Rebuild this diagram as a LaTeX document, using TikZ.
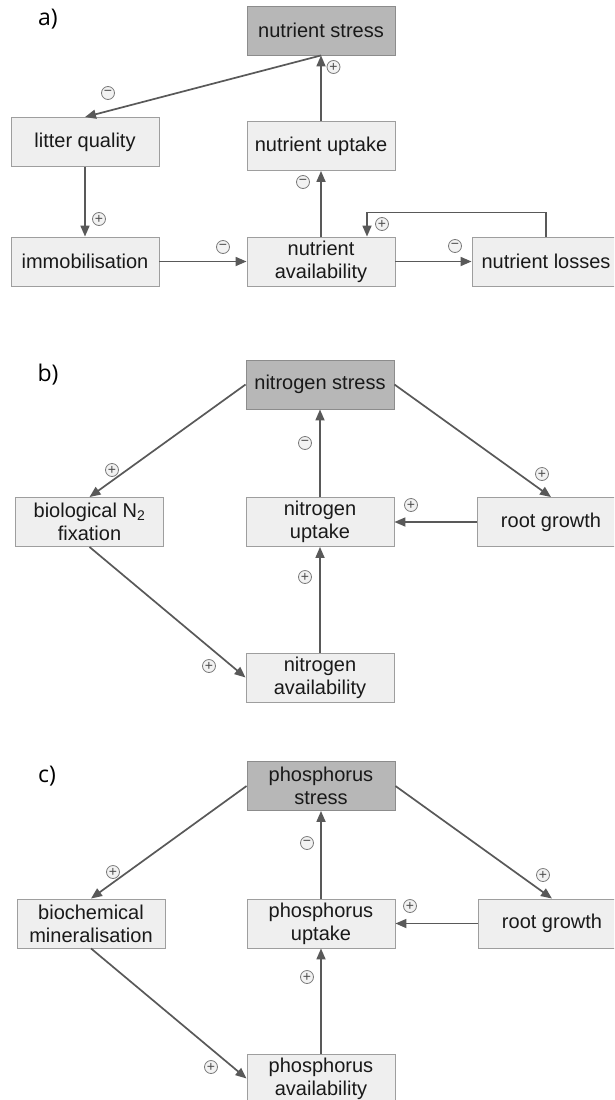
\documentclass[tikz,border=0pt]{standalone}
\usepackage{fontspec}
\setmainfont{Liberation Sans}
\newfontfamily\labelfont{Open Sans}
\usetikzlibrary{arrows.meta}
\definecolor{boxfill}{HTML}{EFEFEF}
\definecolor{boxline}{HTML}{9E9E9E}
\definecolor{darkfill}{HTML}{B7B7B7}
\definecolor{darkline}{HTML}{8C8C8C}
\definecolor{arrowcol}{HTML}{595959}
\definecolor{signcol}{HTML}{7A7A7A}
\definecolor{signfill}{HTML}{F2F2F2}
\tikzset{
  box/.style={draw=boxline, fill=boxfill, line width=0.9pt, minimum width=148pt, minimum height=49pt, inner sep=0pt, align=center, font=\fontsize{20}{23}\selectfont, text=black!90},
  stressbox/.style={box, draw=darkline, fill=darkfill},
  link/.style={draw=arrowcol, line width=1.7pt, -{Triangle[length=11pt,width=9pt]}},
  sign/.style={circle, draw=signcol, fill=signfill, line width=0.8pt, minimum size=13pt, inner sep=0pt, text=black!70, font=\fontsize{14}{14}\selectfont},
  panellabel/.style={font=\labelfont\fontsize{23}{24}\selectfont, inner sep=0pt}
}
\begin{document}
\begin{tikzpicture}[x=1pt, y=-1pt]
\clip (0,0) rectangle (614,1100);
\fill[white] (0,0) rectangle (614,1100);

% ---------- panel a ----------
\node[panellabel] (la) at (48,19) {a)};
\node[stressbox] (ns) at (321,30.5) {nutrient stress};
\node[box] (lq) at (85,142) {litter quality};
\node[box] (nu) at (321,146) {nutrient uptake};
\node[box] (im) at (85,261.5) {immobilisation};
\node[box] (na) at (321,261.5) {nutrient\\availability};
\node[box] (nl) at (546,261.5) {nutrient losses};

\draw[link] (ns.south) -- (lq.north);
\draw[link] (nu.north) -- (ns.south);
\draw[link] (lq.south) -- (im.north);
\draw[link] (na.north) -- (nu.south);
\draw[link] (im.east) -- (na.west);
\draw[link] (na.east) -- (nl.west);
\draw[link] (nl.north) -- ++(0,-24) -| ([xshift=46pt]na.north);

\node[sign] (sa1) at (108,93) {−};
\node[sign] (sa2) at (333.5,67) {+};
\node[sign] (sa3) at (99,219) {+};
\node[sign] (sa4) at (303,182) {−};
\node[sign] (sa5) at (382,224) {+};
\node[sign] (sa6) at (223,247) {−};
\node[sign] (sa7) at (455,246) {−};

% ---------- panel b ----------
\node[panellabel] (lb) at (48,375) {b)};
\node[stressbox] (nsb) at (320,384.5) {nitrogen stress};
\node[box] (bio) at (89.5,522) {biological N\textsubscript{2}\\fixation};
\node[box] (nub) at (320,522) {nitrogen\\uptake};
\node[box] (rgb) at (551,522) {root growth};
\begin{scope}
\clip (0,0) rectangle (614,702);
\node[box] (nab) at (320,677.5) {nitrogen\\availability};
\end{scope}

\draw[link] (nsb.west) -- (bio.north);
\draw[link] (nsb.east) -- (rgb.north);
\draw[link] (nub.north) -- (nsb.south);
\draw[link] (rgb.west) -- (nub.east);
\draw[link] (bio.south) -- (nab.west);
\draw[link] (nab.north) -- (nub.south);

\node[sign] (sb1) at (112,470) {+};
\node[sign] (sb2) at (542,474) {+};
\node[sign] (sb3) at (305,443) {−};
\node[sign] (sb4) at (411,505) {+};
\node[sign] (sb5) at (209,666) {+};
\node[sign] (sb6) at (305,577) {+};

% ---------- panel c ----------
\node[panellabel] (lc) at (47,776) {c)};
\node[stressbox] (psc) at (321,786) {phosphorus\\stress};
\node[box] (bcm) at (91,923.5) {biochemical\\mineralisation};
\node[box] (puc) at (321,923.5) {phosphorus\\uptake};
\node[box] (rgc) at (552,923.5) {root growth};
\node[box] (pac) at (321,1078.5) {phosphorus\\availability};

\draw[link] (psc.west) -- (bcm.north);
\draw[link] (psc.east) -- (rgc.north);
\draw[link] (puc.north) -- (psc.south);
\draw[link] (rgc.west) -- (puc.east);
\draw[link] (bcm.south) -- (pac.west);
\draw[link] (pac.north) -- (puc.south);

\node[sign] (sc1) at (113,872) {+};
\node[sign] (sc2) at (543,875) {+};
\node[sign] (sc3) at (307,843) {−};
\node[sign] (sc4) at (410,906) {+};
\node[sign] (sc5) at (211,1067) {+};
\node[sign] (sc6) at (307,977) {+};
\end{tikzpicture}
\end{document}
